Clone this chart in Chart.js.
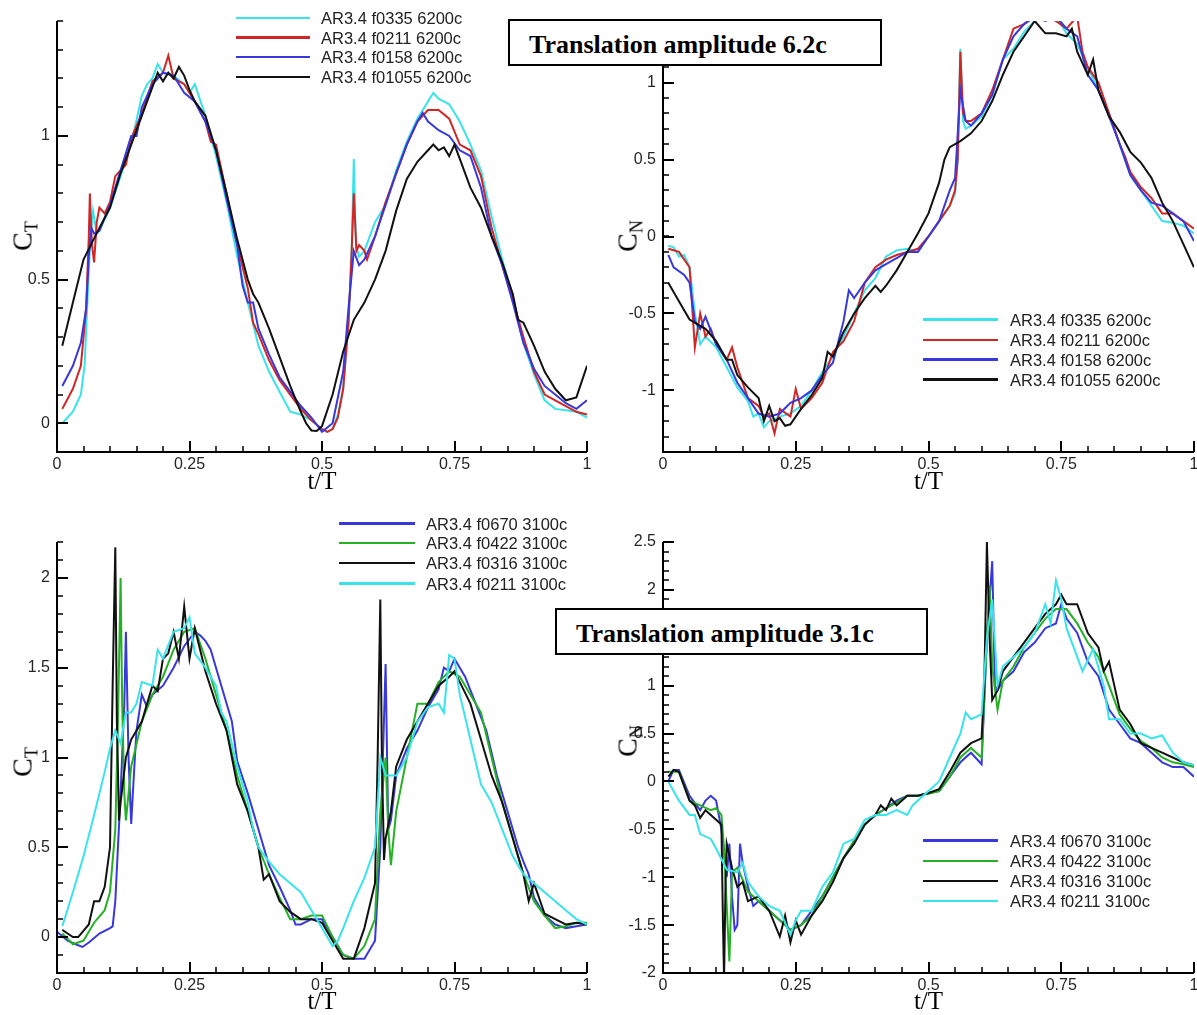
<!DOCTYPE html>
<html><head><meta charset="utf-8">
<script src="https://cdn.jsdelivr.net/npm/chart.js@4.4.1/dist/chart.umd.min.js"></script>
<style>
html,body{margin:0;padding:0;background:#fff;}
body{width:1197px;height:1015px;overflow:hidden;position:relative;}
canvas{position:absolute;}
.box{position:absolute;border:2px solid #000;background:#fff;box-sizing:border-box;z-index:5;}
.boxtext{position:absolute;font-family:"Liberation Serif";font-weight:bold;font-size:26px;line-height:26px;white-space:nowrap;z-index:6;color:#000;}
.legline{position:absolute;height:2.5px;z-index:4;}
.legtext{position:absolute;font-family:"Liberation Sans";font-size:16.5px;line-height:18px;color:#222;white-space:nowrap;z-index:4;}
.ytitle{position:absolute;font-family:"Liberation Serif";font-size:28px;line-height:28px;white-space:nowrap;transform:translate(-50%,-50%) rotate(-90deg);z-index:3;color:#000;}
.ytitle span{font-size:18px;position:relative;top:6px;}
</style></head>
<body>
<script>
// ---------- tick labels ----------
const xTicks = [0, 0.25, 0.5, 0.75, 1];
const ctTopTicks = [0, 0.5, 1];
const cnTopTicks = [-1, -0.5, 0, 0.5, 1];
const ctBotTicks = [0, 0.5, 1, 1.5, 2];
const cnBotTicks = [-2, -1.5, -1, -0.5, 0, 0.5, 1, 1.5, 2, 2.5];

// ---------- series names ----------
const labels62 = ['AR3.4 f0335 6200c', 'AR3.4 f0211 6200c', 'AR3.4 f0158 6200c', 'AR3.4 f01055 6200c'];
const labels31 = ['AR3.4 f0670 3100c', 'AR3.4 f0422 3100c', 'AR3.4 f0316 3100c', 'AR3.4 f0211 3100c'];

// ---------- C_T, translation amplitude 6.2c  [t/T, value] ----------
const ct62_f0335 = [[0.01,0.00],[0.03,0.04],[0.045,0.10],[0.052,0.2],[0.058,0.45],[0.063,0.65],[0.068,0.74],[0.075,0.66],[0.08,0.67],[0.1,0.75],[0.12,0.86],[0.14,0.97],[0.16,1.14],[0.17,1.18],[0.18,1.2],[0.19,1.25],[0.2,1.22],[0.22,1.21],[0.24,1.18],[0.25,1.15],[0.26,1.18],[0.28,1.07],[0.3,0.93],[0.32,0.77],[0.34,0.58],[0.36,0.42],[0.38,0.27],[0.4,0.18],[0.42,0.11],[0.44,0.04],[0.46,0.03],[0.48,0.01],[0.5,-0.02],[0.51,-0.03],[0.52,-0.02],[0.53,0.03],[0.54,0.12],[0.55,0.35],[0.556,0.6],[0.56,0.92],[0.564,0.62],[0.57,0.58],[0.58,0.6],[0.6,0.7],[0.62,0.76],[0.64,0.88],[0.66,0.98],[0.68,1.06],[0.7,1.12],[0.71,1.15],[0.72,1.13],[0.74,1.11],[0.76,1.05],[0.78,0.97],[0.8,0.88],[0.82,0.72],[0.84,0.57],[0.86,0.44],[0.88,0.28],[0.9,0.17],[0.92,0.08],[0.94,0.05],[0.96,0.045],[0.98,0.04],[1.0,0.02]];
const ct62_f0211 = [[0.01,0.05],[0.03,0.12],[0.045,0.2],[0.055,0.4],[0.06,0.65],[0.062,0.8],[0.066,0.62],[0.07,0.56],[0.075,0.7],[0.08,0.75],[0.09,0.73],[0.1,0.77],[0.11,0.86],[0.12,0.88],[0.13,0.9],[0.14,0.99],[0.16,1.08],[0.18,1.19],[0.2,1.22],[0.21,1.28],[0.22,1.2],[0.24,1.18],[0.26,1.12],[0.28,1.05],[0.29,0.98],[0.3,0.97],[0.32,0.8],[0.34,0.62],[0.36,0.47],[0.37,0.35],[0.38,0.31],[0.4,0.22],[0.42,0.15],[0.44,0.1],[0.46,0.05],[0.48,0.01],[0.5,-0.02],[0.51,-0.03],[0.52,-0.02],[0.53,0.02],[0.54,0.12],[0.55,0.35],[0.556,0.6],[0.56,0.8],[0.565,0.6],[0.57,0.62],[0.58,0.6],[0.585,0.57],[0.6,0.65],[0.62,0.77],[0.64,0.87],[0.66,0.97],[0.68,1.05],[0.7,1.09],[0.72,1.09],[0.74,1.06],[0.76,0.97],[0.77,0.96],[0.78,0.95],[0.8,0.86],[0.82,0.68],[0.84,0.55],[0.86,0.43],[0.88,0.3],[0.9,0.18],[0.92,0.1],[0.94,0.08],[0.96,0.06],[0.98,0.04],[1.0,0.03]];
const ct62_f0158 = [[0.01,0.13],[0.03,0.2],[0.045,0.28],[0.055,0.4],[0.06,0.58],[0.065,0.68],[0.07,0.66],[0.08,0.67],[0.1,0.76],[0.12,0.88],[0.14,1.0],[0.15,1.0],[0.16,1.1],[0.18,1.18],[0.2,1.22],[0.22,1.21],[0.24,1.15],[0.26,1.12],[0.28,1.05],[0.3,0.95],[0.32,0.78],[0.34,0.62],[0.35,0.48],[0.36,0.42],[0.37,0.42],[0.38,0.33],[0.4,0.24],[0.42,0.16],[0.44,0.11],[0.46,0.06],[0.48,0.02],[0.5,-0.03],[0.52,0.0],[0.54,0.18],[0.55,0.4],[0.56,0.6],[0.57,0.55],[0.58,0.57],[0.6,0.65],[0.62,0.76],[0.64,0.87],[0.66,0.97],[0.68,1.05],[0.69,1.08],[0.7,1.05],[0.72,1.02],[0.74,1.0],[0.76,0.95],[0.78,0.93],[0.8,0.82],[0.82,0.65],[0.84,0.55],[0.86,0.42],[0.88,0.28],[0.9,0.19],[0.92,0.13],[0.94,0.1],[0.96,0.07],[0.98,0.05],[1.0,0.08]];
const ct62_f01055 = [[0.01,0.27],[0.03,0.42],[0.05,0.57],[0.08,0.68],[0.1,0.75],[0.12,0.87],[0.14,0.97],[0.16,1.07],[0.18,1.17],[0.19,1.22],[0.2,1.19],[0.21,1.22],[0.22,1.2],[0.23,1.24],[0.24,1.21],[0.25,1.16],[0.26,1.12],[0.28,1.07],[0.3,0.95],[0.32,0.8],[0.34,0.64],[0.36,0.5],[0.37,0.45],[0.38,0.42],[0.4,0.33],[0.42,0.23],[0.44,0.13],[0.46,0.04],[0.47,0.0],[0.48,-0.025],[0.49,-0.027],[0.5,-0.01],[0.52,0.1],[0.54,0.25],[0.56,0.36],[0.58,0.42],[0.6,0.5],[0.62,0.6],[0.64,0.74],[0.66,0.85],[0.68,0.91],[0.7,0.95],[0.71,0.97],[0.72,0.95],[0.73,0.96],[0.74,0.93],[0.75,0.97],[0.76,0.92],[0.78,0.82],[0.8,0.75],[0.82,0.65],[0.84,0.56],[0.86,0.45],[0.87,0.36],[0.88,0.35],[0.9,0.27],[0.92,0.18],[0.94,0.12],[0.96,0.08],[0.98,0.09],[1.0,0.2]];

// ---------- C_N, translation amplitude 6.2c ----------
const cn62_f0335 = [[0.01,-0.06],[0.02,-0.07],[0.03,-0.13],[0.04,-0.12],[0.05,-0.2],[0.06,-0.5],[0.07,-0.7],[0.08,-0.65],[0.1,-0.72],[0.12,-0.85],[0.14,-0.98],[0.16,-1.07],[0.17,-1.17],[0.18,-1.15],[0.19,-1.24],[0.2,-1.2],[0.22,-1.17],[0.24,-1.15],[0.26,-1.1],[0.28,-1.0],[0.3,-0.88],[0.32,-0.78],[0.34,-0.65],[0.36,-0.5],[0.38,-0.35],[0.4,-0.27],[0.42,-0.13],[0.44,-0.09],[0.46,-0.08],[0.48,-0.1],[0.5,0.0],[0.52,0.1],[0.54,0.2],[0.55,0.28],[0.555,0.5],[0.56,1.22],[0.565,0.75],[0.57,0.7],[0.58,0.72],[0.6,0.78],[0.62,0.92],[0.64,1.15],[0.66,1.22],[0.68,1.33],[0.7,1.4],[0.72,1.43],[0.74,1.43],[0.76,1.32],[0.78,1.25],[0.8,1.1],[0.82,0.95],[0.84,0.8],[0.86,0.6],[0.88,0.4],[0.9,0.3],[0.92,0.2],[0.94,0.1],[0.96,0.09],[0.98,0.07],[1.0,0.02]];
const cn62_f0211 = [[0.01,-0.08],[0.03,-0.1],[0.05,-0.2],[0.06,-0.72],[0.07,-0.5],[0.08,-0.65],[0.09,-0.6],[0.1,-0.7],[0.12,-0.8],[0.13,-0.72],[0.14,-0.85],[0.16,-1.05],[0.18,-1.1],[0.19,-1.17],[0.2,-1.15],[0.21,-1.28],[0.22,-1.12],[0.24,-1.17],[0.25,-0.99],[0.26,-1.12],[0.28,-1.05],[0.3,-0.95],[0.32,-0.75],[0.34,-0.68],[0.36,-0.55],[0.38,-0.3],[0.4,-0.2],[0.42,-0.15],[0.44,-0.12],[0.46,-0.1],[0.48,-0.08],[0.5,0.0],[0.52,0.1],[0.54,0.2],[0.55,0.3],[0.555,0.5],[0.56,1.2],[0.565,0.8],[0.57,0.75],[0.58,0.75],[0.6,0.8],[0.62,0.95],[0.64,1.15],[0.66,1.35],[0.68,1.38],[0.7,1.43],[0.72,1.43],[0.74,1.4],[0.76,1.35],[0.78,1.43],[0.79,1.2],[0.8,1.1],[0.82,1.0],[0.84,0.8],[0.86,0.6],[0.87,0.52],[0.88,0.42],[0.9,0.32],[0.92,0.25],[0.94,0.15],[0.96,0.15],[0.98,0.1],[1.0,0.05]];
const cn62_f0158 = [[0.01,-0.12],[0.02,-0.2],[0.04,-0.25],[0.05,-0.3],[0.06,-0.55],[0.07,-0.6],[0.08,-0.52],[0.1,-0.7],[0.12,-0.8],[0.14,-0.95],[0.16,-1.05],[0.18,-1.15],[0.2,-1.17],[0.22,-1.15],[0.24,-1.08],[0.26,-1.05],[0.28,-1.0],[0.3,-0.9],[0.32,-0.82],[0.34,-0.55],[0.35,-0.35],[0.36,-0.4],[0.38,-0.3],[0.4,-0.22],[0.42,-0.18],[0.44,-0.14],[0.46,-0.1],[0.48,-0.1],[0.5,0.0],[0.52,0.1],[0.54,0.3],[0.55,0.38],[0.56,0.95],[0.57,0.75],[0.58,0.72],[0.6,0.8],[0.62,0.92],[0.64,1.15],[0.66,1.3],[0.68,1.38],[0.7,1.43],[0.72,1.4],[0.74,1.43],[0.76,1.35],[0.78,1.3],[0.8,1.05],[0.82,0.95],[0.84,0.78],[0.86,0.6],[0.88,0.4],[0.9,0.3],[0.92,0.22],[0.94,0.2],[0.96,0.15],[0.98,0.1],[1.0,-0.03]];
const cn62_f01055 = [[0.01,-0.3],[0.03,-0.42],[0.05,-0.54],[0.07,-0.58],[0.08,-0.6],[0.1,-0.68],[0.12,-0.8],[0.13,-0.8],[0.14,-0.9],[0.16,-0.98],[0.18,-1.05],[0.19,-1.2],[0.2,-1.1],[0.21,-1.2],[0.22,-1.18],[0.23,-1.23],[0.24,-1.22],[0.26,-1.12],[0.28,-1.03],[0.3,-0.92],[0.31,-0.75],[0.32,-0.78],[0.34,-0.62],[0.36,-0.5],[0.38,-0.4],[0.4,-0.32],[0.41,-0.36],[0.42,-0.32],[0.44,-0.22],[0.46,-0.1],[0.48,0.02],[0.5,0.15],[0.52,0.35],[0.53,0.5],[0.54,0.58],[0.56,0.62],[0.58,0.67],[0.6,0.75],[0.62,0.88],[0.64,1.05],[0.66,1.2],[0.68,1.3],[0.7,1.4],[0.72,1.32],[0.74,1.32],[0.76,1.3],[0.77,1.35],[0.78,1.2],[0.8,1.05],[0.81,1.15],[0.82,0.95],[0.84,0.78],[0.86,0.68],[0.88,0.55],[0.9,0.48],[0.92,0.38],[0.94,0.22],[0.96,0.1],[0.98,-0.05],[1.0,-0.2]];

// ---------- C_T, translation amplitude 3.1c ----------
const ct31_f0670 = [[0.0,0.03],[0.02,-0.02],[0.035,-0.04],[0.048,-0.055],[0.06,-0.03],[0.08,0.02],[0.1,0.05],[0.105,0.06],[0.11,0.2],[0.12,0.8],[0.127,1.3],[0.13,1.7],[0.135,1.0],[0.14,0.63],[0.145,0.9],[0.15,1.15],[0.16,1.35],[0.17,1.28],[0.18,1.35],[0.2,1.4],[0.22,1.5],[0.24,1.62],[0.26,1.7],[0.27,1.68],[0.28,1.65],[0.29,1.6],[0.31,1.4],[0.33,1.2],[0.34,0.98],[0.36,0.8],[0.38,0.6],[0.4,0.4],[0.42,0.28],[0.44,0.15],[0.45,0.07],[0.46,0.07],[0.48,0.1],[0.5,0.1],[0.52,0.0],[0.54,-0.1],[0.56,-0.12],[0.58,-0.12],[0.6,-0.02],[0.61,0.5],[0.62,1.52],[0.625,0.6],[0.63,0.65],[0.64,0.9],[0.66,1.05],[0.68,1.15],[0.7,1.28],[0.72,1.38],[0.73,1.5],[0.74,1.48],[0.75,1.55],[0.76,1.5],[0.77,1.45],[0.79,1.3],[0.81,1.15],[0.83,0.9],[0.85,0.7],[0.87,0.5],[0.88,0.42],[0.89,0.35],[0.9,0.22],[0.92,0.12],[0.94,0.07],[0.96,0.05],[0.98,0.06],[1.0,0.07]];
const ct31_f0422 = [[0.01,0.02],[0.03,-0.04],[0.05,-0.02],[0.07,0.08],[0.09,0.15],[0.1,0.25],[0.11,0.6],[0.115,1.2],[0.12,2.0],[0.123,1.3],[0.127,0.8],[0.13,0.65],[0.14,0.95],[0.16,1.2],[0.18,1.35],[0.2,1.45],[0.22,1.6],[0.24,1.7],[0.26,1.72],[0.28,1.55],[0.3,1.35],[0.32,1.15],[0.34,0.9],[0.36,0.7],[0.38,0.5],[0.4,0.35],[0.42,0.22],[0.44,0.1],[0.46,0.1],[0.48,0.12],[0.5,0.12],[0.52,0.0],[0.54,-0.1],[0.56,-0.12],[0.58,-0.05],[0.6,0.1],[0.61,0.7],[0.62,1.0],[0.625,0.6],[0.63,0.4],[0.64,0.7],[0.66,1.0],[0.68,1.3],[0.7,1.3],[0.72,1.42],[0.74,1.48],[0.76,1.45],[0.78,1.35],[0.8,1.25],[0.82,1.0],[0.84,0.75],[0.86,0.55],[0.88,0.35],[0.9,0.2],[0.92,0.12],[0.94,0.05],[0.96,0.06],[0.98,0.08],[1.0,0.08]];
const ct31_f0316 = [[0.01,0.04],[0.02,0.02],[0.03,0.0],[0.04,0.0],[0.06,0.07],[0.07,0.2],[0.08,0.2],[0.09,0.28],[0.1,0.5],[0.105,1.4],[0.11,2.17],[0.113,1.2],[0.117,0.65],[0.12,0.75],[0.13,1.0],[0.14,1.1],[0.16,1.2],[0.18,1.4],[0.19,1.37],[0.2,1.55],[0.21,1.58],[0.22,1.7],[0.23,1.55],[0.24,1.84],[0.25,1.55],[0.26,1.72],[0.28,1.48],[0.3,1.3],[0.32,1.15],[0.34,0.85],[0.36,0.7],[0.38,0.5],[0.39,0.32],[0.4,0.35],[0.42,0.2],[0.44,0.14],[0.46,0.1],[0.48,0.1],[0.5,0.08],[0.52,-0.02],[0.54,-0.12],[0.56,-0.12],[0.58,0.05],[0.6,0.3],[0.605,1.0],[0.61,1.88],[0.613,1.0],[0.617,0.43],[0.62,0.55],[0.63,0.7],[0.64,0.95],[0.66,1.1],[0.68,1.2],[0.7,1.3],[0.72,1.4],[0.74,1.45],[0.75,1.48],[0.76,1.42],[0.78,1.3],[0.8,1.1],[0.82,0.9],[0.84,0.75],[0.86,0.55],[0.88,0.35],[0.89,0.2],[0.9,0.3],[0.92,0.13],[0.94,0.1],[0.96,0.07],[0.98,0.08],[1.0,0.07]];
const ct31_f0211 = [[0.01,0.06],[0.03,0.25],[0.05,0.45],[0.07,0.68],[0.09,0.92],[0.1,1.05],[0.11,1.15],[0.12,1.08],[0.13,1.25],[0.14,1.25],[0.15,1.3],[0.16,1.42],[0.18,1.4],[0.19,1.6],[0.2,1.55],[0.22,1.7],[0.24,1.72],[0.25,1.78],[0.26,1.58],[0.28,1.5],[0.3,1.4],[0.31,1.25],[0.32,1.2],[0.34,0.95],[0.36,0.75],[0.37,0.6],[0.38,0.5],[0.4,0.42],[0.42,0.35],[0.44,0.3],[0.46,0.25],[0.48,0.15],[0.5,0.05],[0.52,-0.05],[0.53,-0.02],[0.54,0.05],[0.56,0.2],[0.58,0.33],[0.6,0.5],[0.61,1.0],[0.62,0.9],[0.64,0.9],[0.66,1.0],[0.68,1.2],[0.7,1.28],[0.72,1.3],[0.73,1.25],[0.74,1.57],[0.75,1.55],[0.76,1.35],[0.78,1.1],[0.8,0.85],[0.82,0.75],[0.84,0.6],[0.86,0.45],[0.88,0.35],[0.9,0.3],[0.92,0.25],[0.94,0.2],[0.96,0.15],[0.98,0.1],[1.0,0.07]];

// ---------- C_N, translation amplitude 3.1c ----------
const cn31_f0670 = [[0.01,0.0],[0.02,0.12],[0.03,0.12],[0.05,-0.15],[0.07,-0.3],[0.08,-0.2],[0.09,-0.15],[0.1,-0.2],[0.11,-0.5],[0.12,-1.0],[0.125,-0.65],[0.13,-1.2],[0.135,-1.55],[0.14,-1.5],[0.145,-0.65],[0.15,-0.85],[0.16,-1.1],[0.17,-1.3],[0.18,-1.25],[0.2,-1.35],[0.22,-1.45],[0.24,-1.55],[0.26,-1.5],[0.28,-1.35],[0.3,-1.2],[0.32,-1.0],[0.34,-0.8],[0.36,-0.62],[0.38,-0.45],[0.4,-0.35],[0.42,-0.28],[0.44,-0.2],[0.46,-0.15],[0.48,-0.15],[0.5,-0.12],[0.52,-0.1],[0.54,0.05],[0.56,0.2],[0.58,0.3],[0.6,0.18],[0.61,1.5],[0.62,2.3],[0.625,1.0],[0.63,0.95],[0.64,1.05],[0.66,1.15],[0.68,1.35],[0.7,1.45],[0.72,1.6],[0.74,1.65],[0.75,1.85],[0.76,1.7],[0.78,1.55],[0.8,1.25],[0.82,1.1],[0.84,0.75],[0.86,0.6],[0.88,0.45],[0.9,0.4],[0.92,0.3],[0.94,0.2],[0.96,0.15],[0.98,0.15],[1.0,0.05]];
const cn31_f0422 = [[0.01,0.1],[0.03,0.1],[0.05,-0.2],[0.07,-0.25],[0.09,-0.3],[0.1,-0.28],[0.11,-0.35],[0.115,-0.7],[0.12,-1.3],[0.125,-1.88],[0.13,-0.95],[0.14,-0.9],[0.16,-1.15],[0.18,-1.25],[0.2,-1.35],[0.22,-1.45],[0.24,-1.55],[0.26,-1.5],[0.28,-1.4],[0.3,-1.2],[0.32,-1.0],[0.34,-0.8],[0.36,-0.62],[0.38,-0.45],[0.4,-0.35],[0.42,-0.28],[0.44,-0.22],[0.46,-0.15],[0.48,-0.15],[0.5,-0.13],[0.52,-0.1],[0.54,0.05],[0.56,0.25],[0.58,0.35],[0.6,0.25],[0.61,1.5],[0.615,2.05],[0.62,1.2],[0.63,0.75],[0.64,1.05],[0.66,1.2],[0.68,1.4],[0.7,1.55],[0.72,1.7],[0.74,1.8],[0.76,1.8],[0.78,1.65],[0.8,1.45],[0.82,1.3],[0.84,1.0],[0.86,0.7],[0.88,0.55],[0.9,0.42],[0.92,0.35],[0.94,0.25],[0.96,0.2],[0.98,0.18],[1.0,0.15]];
const cn31_f0316 = [[0.01,0.05],[0.02,0.12],[0.03,0.1],[0.05,-0.2],[0.06,-0.25],[0.07,-0.38],[0.08,-0.3],[0.1,-0.4],[0.11,-0.45],[0.113,-1.5],[0.115,-2.05],[0.118,-1.0],[0.12,-0.65],[0.13,-0.9],[0.14,-1.1],[0.15,-1.05],[0.16,-1.25],[0.18,-1.2],[0.2,-1.35],[0.22,-1.62],[0.23,-1.4],[0.24,-1.68],[0.25,-1.45],[0.26,-1.6],[0.28,-1.4],[0.3,-1.25],[0.32,-1.05],[0.34,-0.8],[0.36,-0.65],[0.38,-0.45],[0.4,-0.35],[0.41,-0.25],[0.42,-0.3],[0.43,-0.18],[0.44,-0.25],[0.46,-0.15],[0.48,-0.15],[0.5,-0.12],[0.52,-0.08],[0.54,0.1],[0.56,0.3],[0.58,0.4],[0.6,0.45],[0.605,1.0],[0.61,2.5],[0.615,1.5],[0.62,0.85],[0.63,0.95],[0.64,1.15],[0.66,1.3],[0.68,1.45],[0.7,1.6],[0.72,1.75],[0.74,1.85],[0.75,1.95],[0.76,1.85],[0.78,1.85],[0.8,1.55],[0.82,1.4],[0.83,1.15],[0.84,1.25],[0.86,0.75],[0.88,0.6],[0.9,0.4],[0.92,0.35],[0.94,0.3],[0.96,0.25],[0.98,0.2],[1.0,0.17]];
const cn31_f0211 = [[0.01,0.0],[0.03,-0.2],[0.05,-0.35],[0.06,-0.35],[0.07,-0.55],[0.09,-0.6],[0.1,-0.7],[0.12,-0.92],[0.14,-0.95],[0.15,-0.85],[0.16,-1.05],[0.18,-1.2],[0.2,-1.3],[0.22,-1.35],[0.24,-1.6],[0.25,-1.45],[0.26,-1.35],[0.28,-1.35],[0.3,-1.1],[0.32,-0.95],[0.34,-0.65],[0.36,-0.6],[0.38,-0.4],[0.4,-0.35],[0.42,-0.35],[0.44,-0.3],[0.46,-0.35],[0.47,-0.25],[0.48,-0.2],[0.5,-0.1],[0.52,0.0],[0.54,0.25],[0.56,0.5],[0.57,0.72],[0.58,0.65],[0.6,0.7],[0.61,1.5],[0.62,1.9],[0.63,1.0],[0.64,1.2],[0.66,1.3],[0.68,1.4],[0.7,1.55],[0.72,1.85],[0.73,1.65],[0.74,2.1],[0.75,1.9],[0.76,1.6],[0.78,1.3],[0.79,1.15],[0.81,1.38],[0.83,1.0],[0.84,0.65],[0.86,0.65],[0.88,0.5],[0.9,0.5],[0.92,0.45],[0.94,0.48],[0.96,0.3],[0.98,0.2],[1.0,0.17]];

// ---------- colours ----------
const CYAN = '#38e4ea', RED = '#d02626', BLUE = '#3838dc', BLACK = '#111111', GREEN = '#26b026';

const panels = [
  { left: 0, top: 0, w: 600, h: 505, area: [57, 21, 587, 452], ymin: -0.1, ymax: 1.4, yTicks: ctTopTicks, titlePad: 8,
    series: [ct62_f0335, ct62_f0211, ct62_f0158, ct62_f01055], names: labels62, colors: [CYAN, RED, BLUE, BLACK],
    legend: { lineX: 236, lineW: 74, textX: 321, rows: [18, 37.5, 57, 77] }, ytitle: { main: 'C', sub: 'T', x: 24, y: 236 } },
  { left: 600, top: 0, w: 610, h: 505, area: [63, 21, 594, 452], ymin: -1.4, ymax: 1.4, yTicks: cnTopTicks, titlePad: 8,
    series: [cn62_f0335, cn62_f0211, cn62_f0158, cn62_f01055], names: labels62, colors: [CYAN, RED, BLUE, BLACK],
    legend: { lineX: 923, lineW: 75, textX: 1010, rows: [319.5, 340, 359.5, 379.5] }, ytitle: { main: 'C', sub: 'N', x: 629, y: 236 } },
  { left: 0, top: 505, w: 600, h: 525, area: [57, 37, 587, 468], ymin: -0.2, ymax: 2.2, yTicks: ctBotTicks, titlePad: 12.5,
    series: [ct31_f0670, ct31_f0422, ct31_f0316, ct31_f0211], names: labels31, colors: [BLUE, GREEN, BLACK, CYAN],
    legend: { lineX: 339, lineW: 76, textX: 426, rows: [523.5, 543, 563, 583.5] }, ytitle: { main: 'C', sub: 'T', x: 24, y: 762 } },
  { left: 600, top: 505, w: 610, h: 525, area: [63, 37, 594, 468], ymin: -2, ymax: 2.5, yTicks: cnBotTicks, titlePad: 12.5,
    series: [cn31_f0670, cn31_f0422, cn31_f0316, cn31_f0211], names: labels31, colors: [BLUE, GREEN, BLACK, CYAN],
    legend: { lineX: 923, lineW: 75, textX: 1010, rows: [840.5, 861, 881, 901] }, ytitle: { main: 'C', sub: 'N', x: 629, y: 741 } }
];

// axis lines plus inward major/minor tick marks, placed through the chart's own scales
function makeAxisPlugin(yMajor) {
  const xMinor = 0.05, yMinor = 0.1;
  return {
    id: 'axisTicks',
    afterDatasetsDraw(chart) {
      const ctx = chart.ctx, a = chart.chartArea, xs = chart.scales.x, ys = chart.scales.y;
      ctx.save();
      ctx.strokeStyle = '#000000';
      ctx.lineWidth = 1.5;
      ctx.beginPath();
      const nx = Math.round((xs.max - xs.min) / xMinor);
      for (let k = 0; k <= nx; k++) {
        const px = Math.round(xs.getPixelForValue(xs.min + k * xMinor));
        ctx.moveTo(px, a.bottom); ctx.lineTo(px, a.bottom - 6);
      }
      const ny = Math.round((ys.max - ys.min) / yMinor);
      for (let k = 0; k <= ny; k++) {
        const py = Math.round(ys.getPixelForValue(ys.min + k * yMinor));
        ctx.moveTo(a.left, py); ctx.lineTo(a.left + 6, py);
      }
      ctx.stroke();
      ctx.lineWidth = 2;
      ctx.beginPath();
      for (const v of xTicks) { const px = Math.round(xs.getPixelForValue(v)); ctx.moveTo(px, a.bottom); ctx.lineTo(px, a.bottom - 11); }
      for (const v of yMajor) { const py = Math.round(ys.getPixelForValue(v)); ctx.moveTo(a.left, py); ctx.lineTo(a.left + 11, py); }
      ctx.stroke();
      ctx.beginPath();
      ctx.moveTo(a.left, a.top); ctx.lineTo(a.left, a.bottom); ctx.lineTo(a.right, a.bottom);
      ctx.stroke();
      ctx.restore();
    }
  };
}

function add(tag, cls, style, html) {
  const el = document.createElement(tag);
  if (cls) el.className = cls;
  Object.assign(el.style, style);
  if (html !== undefined) el.innerHTML = html;
  document.body.appendChild(el);
  return el;
}

panels.forEach(p => {
  const cv = document.createElement('canvas');
  cv.width = p.w; cv.height = p.h;
  cv.style.left = p.left + 'px'; cv.style.top = p.top + 'px';
  cv.style.width = p.w + 'px'; cv.style.height = p.h + 'px';
  document.body.appendChild(cv);
  const [al, at, ar, ab] = p.area;
  const n = p.series.length;
  new Chart(cv, {
    type: 'line',
    data: {
      datasets: p.series.map((s, i) => ({
        label: p.names[i],
        data: s.map(([t, v]) => ({ x: t, y: v })),
        borderColor: p.colors[i],
        backgroundColor: p.colors[i],
        borderWidth: 2,
        pointRadius: 0,
        tension: 0,
        fill: false,
        order: n - 1 - i
      }))
    },
    options: {
      responsive: false, animation: false, devicePixelRatio: 1,
      layout: { padding: { left: 0, top: at, right: p.w - ar, bottom: 0 } },
      plugins: { legend: { display: false }, tooltip: { enabled: false } },
      scales: {
        x: {
          type: 'linear', min: 0, max: 1,
          grid: { display: false, drawTicks: false }, border: { display: false },
          afterBuildTicks: s => { s.ticks = xTicks.map(v => ({ value: v })); },
          afterFit: s => { s.height = p.h - ab; },
          ticks: { padding: 3, autoSkip: false, maxRotation: 0, color: '#262626',
                   font: { family: 'Liberation Sans', size: 16 }, callback: v => String(v) },
          title: { display: true, text: 't/T', color: '#000',
                   font: { family: 'Liberation Serif', size: 25 }, padding: { top: 0, bottom: p.titlePad } }
        },
        y: {
          type: 'linear', min: p.ymin, max: p.ymax,
          grid: { display: false, drawTicks: false }, border: { display: false },
          afterBuildTicks: s => { s.ticks = p.yTicks.map(v => ({ value: v })); },
          afterFit: s => { s.width = al; },
          ticks: { padding: 7, autoSkip: false, color: '#262626',
                   font: { family: 'Liberation Sans', size: 16 }, callback: v => String(v) }
        }
      }
    },
    plugins: [makeAxisPlugin(p.yTicks)]
  });

  p.names.forEach((name, i) => {
    const ry = p.legend.rows[i];
    add('div', 'legline', { left: p.legend.lineX + 'px', top: (ry - 1.25) + 'px', width: p.legend.lineW + 'px', background: p.colors[i] });
    add('div', 'legtext', { left: p.legend.textX + 'px', top: (ry - 9) + 'px' }, name);
  });
  add('div', 'ytitle', { left: p.ytitle.x + 'px', top: p.ytitle.y + 'px' }, p.ytitle.main + '<span>' + p.ytitle.sub + '</span>');
});

add('div', 'box', { left: '508px', top: '19px', width: '374px', height: '47px' });
add('div', 'boxtext', { left: '529px', top: '32px' }, 'Translation amplitude 6.2c');
add('div', 'box', { left: '555px', top: '608px', width: '373px', height: '47px' });
add('div', 'boxtext', { left: '576px', top: '620.5px' }, 'Translation amplitude 3.1c');
</script>
</body></html>
